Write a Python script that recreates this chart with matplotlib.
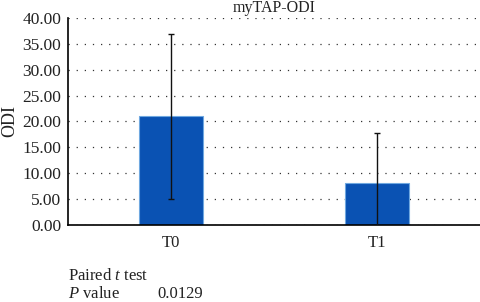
import matplotlib
matplotlib.use("Agg")
import matplotlib.pyplot as plt

categories = ["T0", "T1"]
means = [21.0, 8.1]
sds = [16.0, 9.7]
yticks = [0, 5, 10, 15, 20, 25, 30, 35, 40]

plt.rcParams['font.family'] = ['Liberation Serif', 'DejaVu Serif']
plt.rcParams['mathtext.fontset'] = 'custom'
plt.rcParams['mathtext.rm'] = 'Liberation Serif'
plt.rcParams['mathtext.it'] = 'Liberation Serif:italic'

fig = plt.figure(figsize=(4.8, 3.02), dpi=100)
ax = fig.add_axes([68/480, 77/302, 1 - 68/480, 207/302])

x = list(range(len(categories)))
ax.bar(x, means, width=0.31, color="#0a52b3", edgecolor="#6fa8e0", linewidth=0.8, zorder=2)
ax.errorbar(x, means, yerr=sds, fmt='none', ecolor="#111111", elinewidth=1.0, capsize=2.5, capthick=1.0, zorder=3)

ax.set_xlim(-0.5, 1.5)
ax.set_ylim(0, 40)
ax.set_yticks(yticks)
ax.set_yticklabels([f"{v:.2f}" for v in yticks], fontsize=12.5)
ax.set_xticks(x)
ax.set_xticklabels(categories, fontsize=12)
ax.tick_params(axis='y', length=0, pad=5, colors="#222222")
ax.tick_params(axis='x', length=0, pad=7, colors="#222222")

ax.yaxis.grid(True, linestyle=(0, (1, 5.5)), color="#333333", linewidth=0.9, zorder=0)
ax.set_axisbelow(True)
for s in ["top", "right"]:
    ax.spines[s].set_visible(False)
ax.spines["left"].set_linewidth(1.2)
ax.spines["bottom"].set_linewidth(1.2)

ax.set_title("myTAP-ODI", fontsize=11.5, pad=4, color="#222222")
fig.text(10/480, 1 - 121/302, "ODI", rotation=90, fontsize=13, va="center", ha="center", color="#222222")

fig.text(68/480, 1 - 276/302, "Paired $t$ test", fontsize=12, va="center", ha="left", color="#222222")
fig.text(68/480, 1 - 294/302, "$P$ value", fontsize=12, va="center", ha="left", color="#222222")
fig.text(157/480, 1 - 294/302, "0.0129", fontsize=12, va="center", ha="left", color="#222222")

fig.savefig("out.png", dpi=100)
